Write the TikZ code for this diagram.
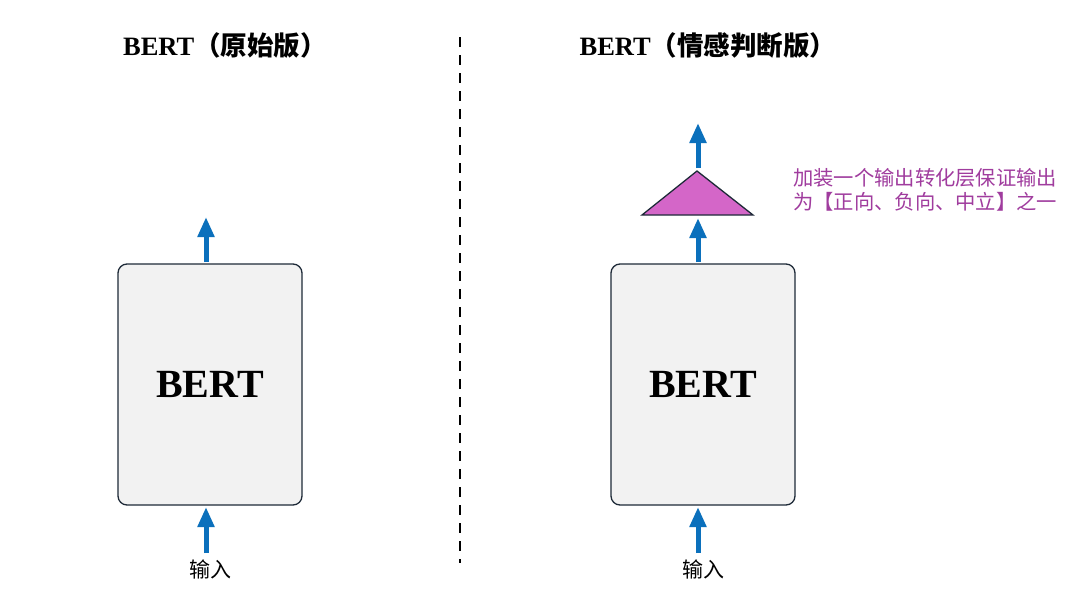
\documentclass[tikz,border=0pt]{standalone}
\usepackage{fontspec}
\setmainfont{Liberation Serif}
\newfontfamily\cjk{Noto Sans CJK SC}
\newfontfamily\cjkb{Noto Sans CJK SC Bold}
\usetikzlibrary{arrows.meta}
\definecolor{arrowblue}{HTML}{0B70BC}
\definecolor{boxfill}{HTML}{F2F2F2}
\definecolor{boxdraw}{HTML}{1E2A38}
\definecolor{trifill}{HTML}{D466C8}
\definecolor{notecol}{HTML}{A03C9E}
\tikzset{
  x=1pt,y=-1pt,
  bertbox/.style={draw=boxdraw,line width=1.3pt,fill=boxfill,rounded corners=9pt,minimum width=184pt,minimum height=241pt,inner sep=0pt,font=\fontsize{40}{44}\selectfont\bfseries},
  flow/.style={draw=arrowblue,line width=5pt,-{Triangle[length=20pt,width=16pt]}},
  title/.style={font=\fontsize{26.5}{30}\selectfont\bfseries},
  inlabel/.style={font=\cjk\fontsize{21}{24}\selectfont},
  note/.style={font=\cjk\fontsize{20.3}{24}\selectfont,text=notecol,align=left,anchor=west,inner sep=0pt}
}
\begin{document}
\begin{tikzpicture}
\useasboundingbox (0,0) rectangle (1080,608);
\fill[white] (0,0) rectangle (1080,608);
% titles
\node[title] (t1) at (225,46) {BERT{\cjkb （原始版）}};
\node[title] (t2) at (708,46) {BERT{\cjkb （情感判断版）}};
% divider
\coordinate (d1) at (460,37);
\coordinate (d2) at (460,563);
\draw[line width=2.5pt,dash pattern=on 10pt off 8pt] (d1) -- (d2);
% boxes
\node[bertbox] (b1) at (210,384.5) {BERT};
\node[bertbox] (b2) at (703,384.5) {BERT};
% inputs
\node[inlabel] (i1) at (210,569) {输入};
\node[inlabel] (i2) at (703,569) {输入};
\coordinate (i1t) at (206,553);
\coordinate (i2t) at (698,553);
\coordinate (b1b) at (206,507);
\coordinate (b2b) at (698,507);
\draw[flow] (i1t) -- (b1b);
\draw[flow] (i2t) -- (b2b);
% left output
\coordinate (b1t) at (206,262);
\coordinate (o1) at (206,217);
\draw[flow] (b1t) -- (o1);
% triangle
\coordinate (ta) at (697,171);
\coordinate (tl) at (642,215);
\coordinate (tr) at (753,215);
\draw[draw=boxdraw,line width=1.3pt,fill=trifill,line join=miter] (ta) -- (tl) -- (tr) -- cycle;
\coordinate (b2t) at (698,262);
\coordinate (tb) at (698,218);
\draw[flow] (b2t) -- (tb);
\coordinate (tt) at (698,168);
\coordinate (o2) at (698,123);
\draw[flow] (tt) -- (o2);
% note
\node[note] (n) at (793,190) {加装一个输出转化层保证输出\\为【正向、负向、中立】之一};
\end{tikzpicture}
\end{document}
